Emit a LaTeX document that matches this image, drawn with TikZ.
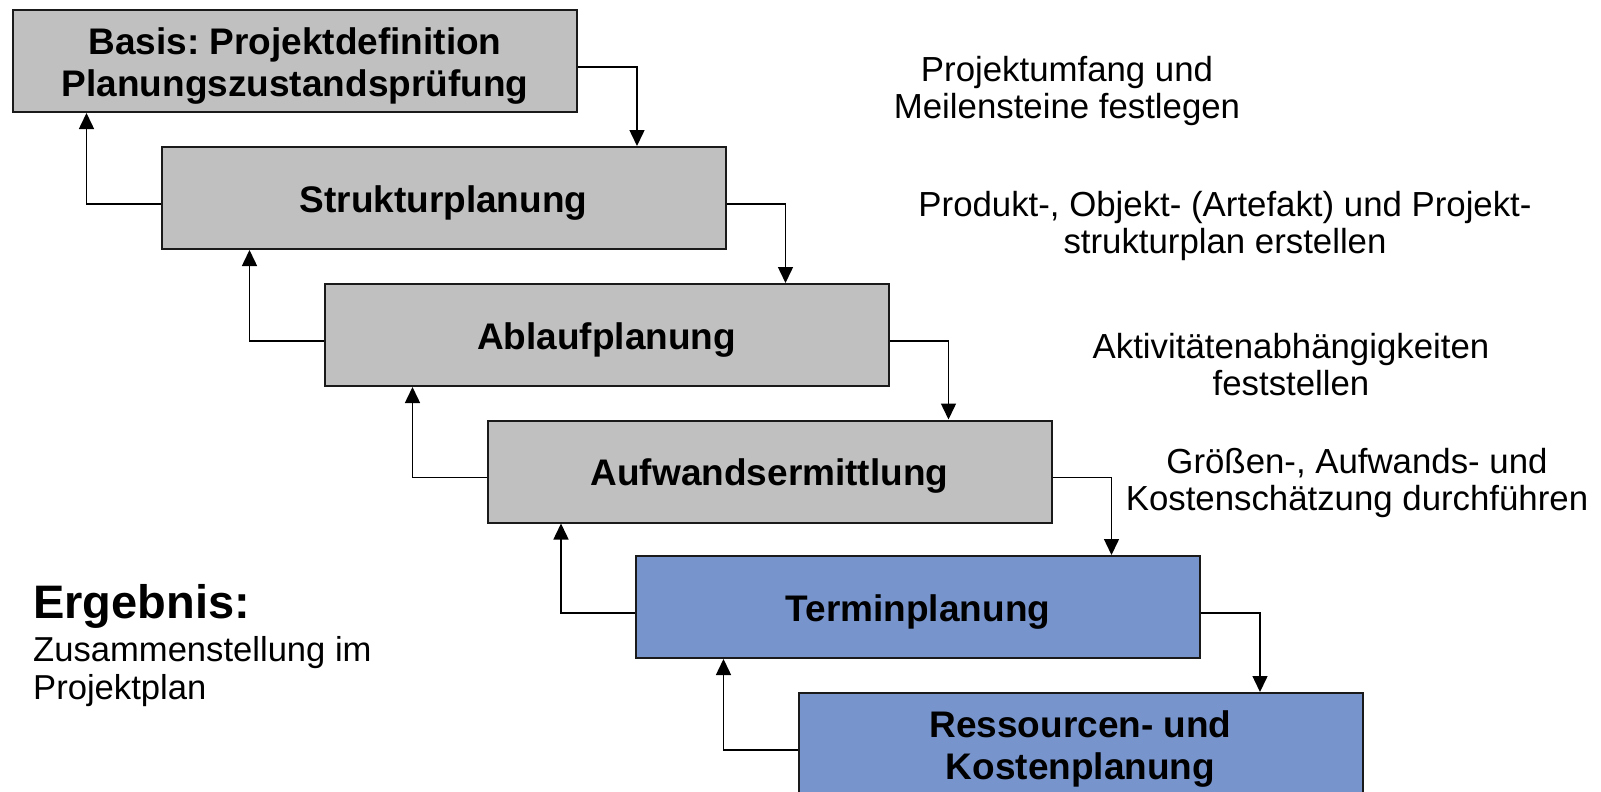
\documentclass[tikz,border=0pt]{standalone}
\usepackage{fontspec}
\setmainfont{Liberation Sans}
\frenchspacing
\usetikzlibrary{arrows.meta}
\definecolor{boxgray}{RGB}{192,192,192}
\definecolor{boxblue}{RGB}{120,148,204}
\definecolor{boxline}{RGB}{26,26,26}
\tikzset{
  stage/.style={draw=boxline, line width=2pt, minimum width=564pt, minimum height=102pt,
    inner sep=0pt},
  boxtext/.style={inner sep=0pt, align=center, yshift=-5pt,
    font=\bfseries\fontsize{37}{42}\selectfont},
  graystage/.style={stage, fill=boxgray},
  bluestage/.style={stage, fill=boxblue},
  note/.style={inner sep=0pt, align=center, font=\fontsize{34.8}{37}\selectfont},
  arr/.style={draw=black, line width=1.5pt, -{Triangle[length=16pt,width=15pt]}}
}
\begin{document}
\begin{tikzpicture}[x=1pt,y=-1pt]
\useasboundingbox (0,0) rectangle (1601,792);
\fill[white] (0,0) rectangle (1601,792);
% stages
\node[graystage, label={[boxtext]center:Basis: Projektdefinition\\Planungszustandsprüfung}] (b1) at (295,61) {};
\node[graystage, label={[boxtext]center:Strukturplanung}] (b2) at (443.5,198) {};
\node[graystage, label={[boxtext]center:Ablaufplanung}] (b3) at (606.5,335) {};
\node[graystage, label={[boxtext]center:Aufwandsermittlung}] (b4) at (769.5,471.5) {};
\node[bluestage, label={[boxtext]center:Terminplanung}] (b5) at (918,607) {};
\node[bluestage, label={[boxtext]center:Ressourcen- und\\Kostenplanung}] (b6) at (1080.5,744) {};
% forward arrows
\draw[arr] ([yshift=-6pt]b1.east) -| ([xshift=59pt]b1.east |- b2.north);
\draw[arr] ([yshift=-6pt]b2.east) -| ([xshift=59pt]b2.east |- b3.north);
\draw[arr] ([yshift=-6pt]b3.east) -| ([xshift=59pt]b3.east |- b4.north);
\draw[arr] ([yshift=-6pt]b4.east) -| ([xshift=59pt]b4.east |- b5.north);
\draw[arr] ([yshift=-6pt]b5.east) -| ([xshift=59pt]b5.east |- b6.north);
% backward arrows
\draw[arr] ([yshift=-6pt]b2.west) -| ([xshift=-74pt]b2.west |- b1.south);
\draw[arr] ([yshift=-6pt]b3.west) -| ([xshift=-74pt]b3.west |- b2.south);
\draw[arr] ([yshift=-6pt]b4.west) -| ([xshift=-74pt]b4.west |- b3.south);
\draw[arr] ([yshift=-6pt]b5.west) -| ([xshift=-74pt]b5.west |- b4.south);
\draw[arr] ([yshift=-6pt]b6.west) -| ([xshift=-74pt]b6.west |- b5.south);
% notes
\node[note] (n1) at (1067,91.5) {Projektumfang und\\Meilensteine festlegen};
\node[note] (n2) at (1225,226) {Produkt-, Objekt- (Artefakt) und Projekt-\\strukturplan erstellen};
\node[note] (n3) at (1291,365) {Aktivitätenabhängigkeiten\\feststellen};
\node[note] (n4) at (1357,483) {Größen-, Aufwands- und\\Kostenschätzung durchführen};
% result
\node[inner sep=0pt, anchor=base west, font=\bfseries\fontsize{47}{52}\selectfont] (erg) at (33,618) {Ergebnis:};
\node[inner sep=0pt, anchor=north west, align=left, font=\fontsize{34.6}{38}\selectfont] (ergtext) at (33,636) {Zusammenstellung im\\Projektplan};
\end{tikzpicture}
\end{document}
